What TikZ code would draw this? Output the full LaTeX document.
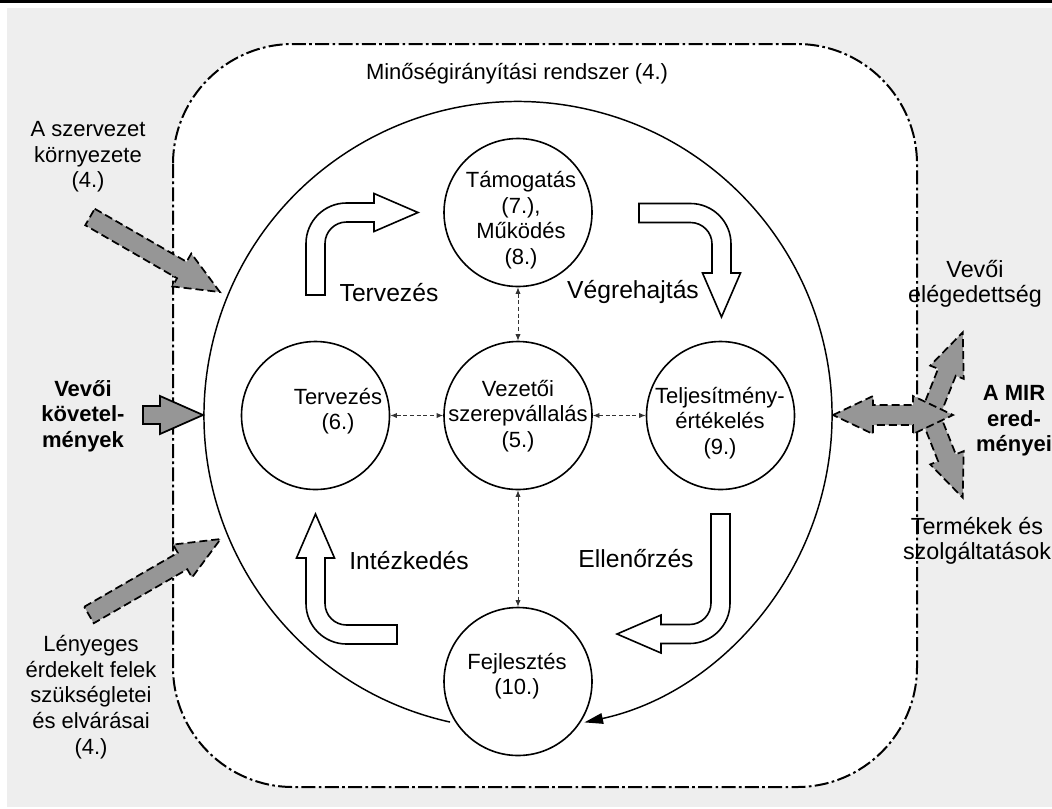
\documentclass[tikz,border=0pt]{standalone}
\usepackage{fontspec}
\setmainfont{Liberation Sans}
\usetikzlibrary{arrows.meta}
\definecolor{bggray}{RGB}{238,238,238}
\definecolor{arrgray}{RGB}{150,150,150}
\newcommand\bentarr[2]{%
  \draw[warrow] (-9.5,0) -- (-9.5,{-#1+31})
    .. controls (-9.5,{-#1+31-22.37}) and ({31-22.37},{-#1-9.5}) .. (31,{-#1-9.5})
    -- ({#2-44},{-#1-9.5}) -- ({#2-44},{-#1-19}) -- (#2,{-#1}) -- ({#2-44},{-#1+19})
    -- ({#2-44},{-#1+9.5}) -- (31,{-#1+9.5})
    .. controls ({31-11.87},{-#1+9.5}) and (9.5,{-#1+31-11.87}) .. (9.5,{-#1+31})
    -- (9.5,0) -- cycle;}
\newcommand\grayarr[5]{%
  \draw[#5] (0,{-#4}) -- ({#1-#2},{-#4}) -- ({#1-#2},{-#3}) -- (#1,0)
    -- ({#1-#2},#3) -- ({#1-#2},#4) -- (0,#4) -- cycle;}
\begin{document}
\begin{tikzpicture}[x=0.75pt,y=-0.75pt,
  txt/.style={align=center, inner sep=0pt, font=\fontsize{16.5}{19.2}\selectfont},
  txtr/.style={align=center, inner sep=0pt, font=\fontsize{17.5}{19.2}\selectfont},
  txtb/.style={align=center, inner sep=0pt, font=\fontsize{16.5}{19.2}\selectfont\bfseries},
  lbl/.style={align=center, inner sep=0pt, font=\fontsize{18.5}{21}\selectfont},
  circ/.style={circle, draw, line width=1.2pt, fill=white, minimum size=111pt, inner sep=0pt},
  warrow/.style={draw, fill=white, line width=1.2pt, line join=miter},
  garrow/.style={draw, fill=arrgray, line width=1.3pt, dash pattern=on 6pt off 3pt},
  gsolid/.style={draw, fill=arrgray, line width=1.3pt},
  dconn/.style={{Latex[length=5pt,width=4pt]}-{Latex[length=5pt,width=4pt]}, dash pattern=on 3pt off 2pt, line width=0.7pt, black!80},
  bigarc/.style={line width=1.1pt, -{Triangle[length=14pt,width=8pt]}},
  system/.style={draw, fill=white, line width=1.5pt, rounded corners=90pt, dash pattern=on 10.5pt off 2.5pt on 2pt off 2.5pt}
]
\useasboundingbox (0,0) rectangle (1052,808);
\fill[bggray] (7,8) rectangle (1052,807);
\fill[black] (0,0) rectangle (1052,2.5);

% system boundary
\draw[system] (173,44) rectangle (917,787);
\node[txt] (title) at (517,74) {Minőségirányítási rendszer (4.)};

% big cycle
\coordinate (bigc) at (518,415.5);
\draw[bigarc] ([shift={(102.5:314)}]bigc) arc[start angle=102.5, end angle=437.8, radius=314];

% bent white arrows
\begin{scope}[shift={(315.5,295)}]\bentarr{82.5}{102.5}\end{scope}
\begin{scope}[shift={(639,213)},rotate=-90]\bentarr{82.5}{104}\end{scope}
\begin{scope}[shift={(720.5,514)},rotate=180]\bentarr{120}{103.5}\end{scope}
\begin{scope}[shift={(397,634.5)},rotate=90]\bentarr{81.5}{120.5}\end{scope}

\node[lbl] (lplan) at (389,293) {Tervezés};
\node[lbl] (ldo) at (633,292) {Végrehajtás};
\node[lbl] (lact) at (409,561) {Intézkedés};
\node[lbl] (lcheck) at (636,559) {Ellenőrzés};

% circles
\node[circ] (top) at (518,212.5) {};
\node[circ] (ctr) at (518,415.5) {};
\node[circ] (left) at (315.5,415.5) {};
\node[circ] (right) at (720.5,415.5) {};
\node[circ] (bot) at (518,681.5) {};
\node[txt] at (521,220) {Támogatás\\(7.),\\Működés\\(8.)};
\node[txt] at (518,416) {Vezetői\\szerepvállalás\\(5.)};
\node[txt] at (338,411) {Tervezés\\(6.)};
\node[txt] at (720,423) {Teljesítmény-\\értékelés\\(9.)};
\node[txt] at (517,676) {Fejlesztés\\(10.)};

\draw[dconn] (left) -- (ctr);
\draw[dconn] (ctr) -- (right);
\draw[dconn] (top) -- (ctr);
\draw[dconn] (ctr) -- (bot);

% left inputs
\begin{scope}[shift={(90,217)},rotate=-30]\grayarr{150}{44}{19}{9.5}{garrow}\end{scope}
\begin{scope}[shift={(89,615)},rotate=30]\grayarr{152}{44}{19}{9.5}{garrow}\end{scope}
\begin{scope}[shift={(143,415)}]\grayarr{60}{43}{19}{9}{gsolid}\end{scope}

% right outputs
\begin{scope}[shift={(930,415)},rotate=68.4]\grayarr{89}{43}{18}{9.5}{garrow}\end{scope}
\begin{scope}[shift={(930,415)},rotate=-68.4]\grayarr{89}{43}{18}{9.5}{garrow}\end{scope}
\draw[garrow] (833,415) -- (873,396) -- (873,405) -- (913,405) -- (913,396) -- (953,415)
  -- (913,434) -- (913,425) -- (873,425) -- (873,434) -- cycle;

% outer texts
\node[txt] (env) at (88,157) {A szervezet\\környezete\\(4.)};
\node[txtb] (req) at (83,416) {Vevői\\követel-\\mények};
\node[txt] (parties) at (91,697) {Lényeges\\érdekelt felek\\szükségletei\\és elvárásai\\(4.)};
\node[txtr] (sat) at (975,284) {Vevői\\elégedettség};
\node[txtb] (res) at (1014,421) {A MIR\\ered-\\ményei};
\node[txtr] (prod) at (977,541) {Termékek és\\szolgáltatások};
\end{tikzpicture}
\end{document}
